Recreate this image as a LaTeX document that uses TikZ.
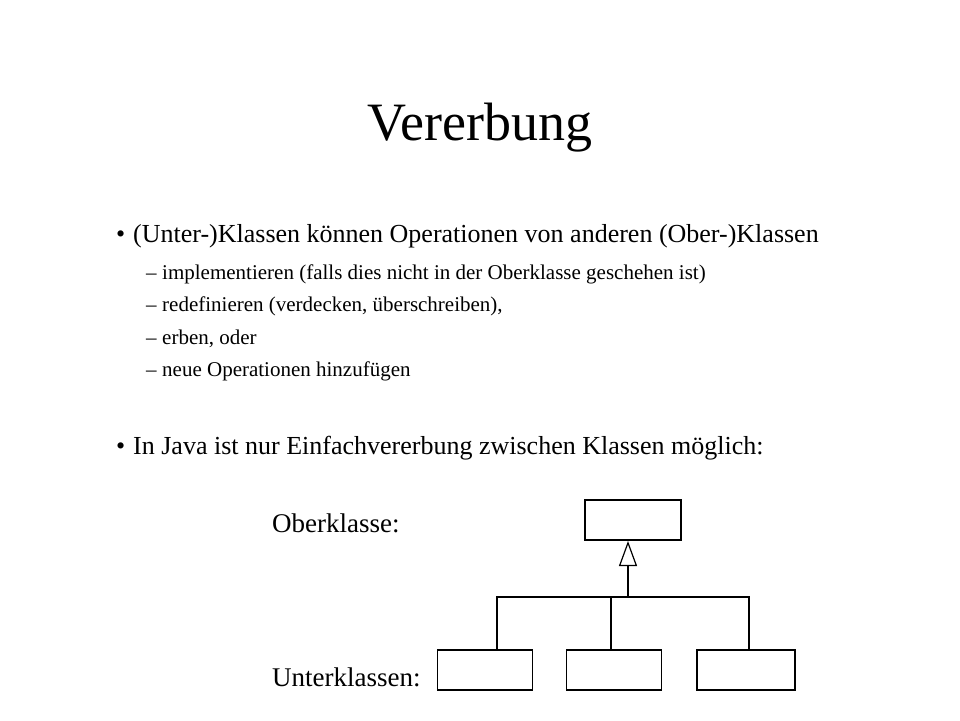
\documentclass[tikz,border=0pt]{standalone}
\usepackage{fontspec}
\setmainfont{Liberation Serif}
\usetikzlibrary{positioning}
\usetikzlibrary{arrows.meta}

\begin{document}
\begin{tikzpicture}[
            x = 1pt, y = -1pt,
            txt/.style = {anchor = base west, inner sep = 0pt, font = \fontsize{26}{30}\selectfont},
            sub/.style = {anchor = base west, inner sep = 0pt, font = \fontsize{21}{25}\selectfont},
            cls/.style = {draw, line width = 1.2pt, minimum width = 96pt, minimum height = 40pt, inner sep = 0pt},
            wire/.style = {line width = 1.2pt}
            ]
            \useasboundingbox (0,0) rectangle (960,720);
            \node[inner sep = 0pt, font = \fontsize{54}{62}\selectfont] (title) at (480,128) {Vererbung};

            \node[txt] (b1) at (116,242) {\textbullet};
            \node[txt] (t1) at (133,242) {(Unter-)Klassen können Operationen von anderen (Ober-)Klassen};
            \foreach \y/\s in {279/implementieren (falls dies nicht in der Oberklasse geschehen ist),
                               311/{redefinieren (verdecken, überschreiben),},
                               344/{erben, oder},
                               376/neue Operationen hinzufügen} {
                \node[sub] at (146,\y) {--};
                \node[sub] at (162,\y) {\s};
            }
            \node[txt] (b2) at (116,454) {\textbullet};
            \node[txt] (t2) at (133,454) {In Java ist nur Einfachvererbung zwischen Klassen möglich:};

            \node[txt, font = \fontsize{27}{31}\selectfont] (ober) at (272,532) {Oberklasse:};
            \node[txt, font = \fontsize{27}{31}\selectfont] (unter) at (272,686) {Unterklassen:};

            % Klassen
            \node[cls] (top) at (633,520) {};
            \node[cls, minimum width = 95pt] (c1) at (485,670) {};
            \node[cls, minimum width = 95pt] (c2) at (614,670) {};
            \node[cls, minimum width = 98pt] (c3) at (746,670) {};
            \coordinate (j) at (628,597);
            \draw[wire, -{Triangle[open, length = 25pt, width = 18pt]}] (j) -- (628,541);
            \draw[wire] (c1.north -| 497,0) |- (j) -| (c3.north -| 749,0);
            \draw[wire] (c2.north -| 611,0) -- (611,597);
        \end{tikzpicture}
\end{document}
